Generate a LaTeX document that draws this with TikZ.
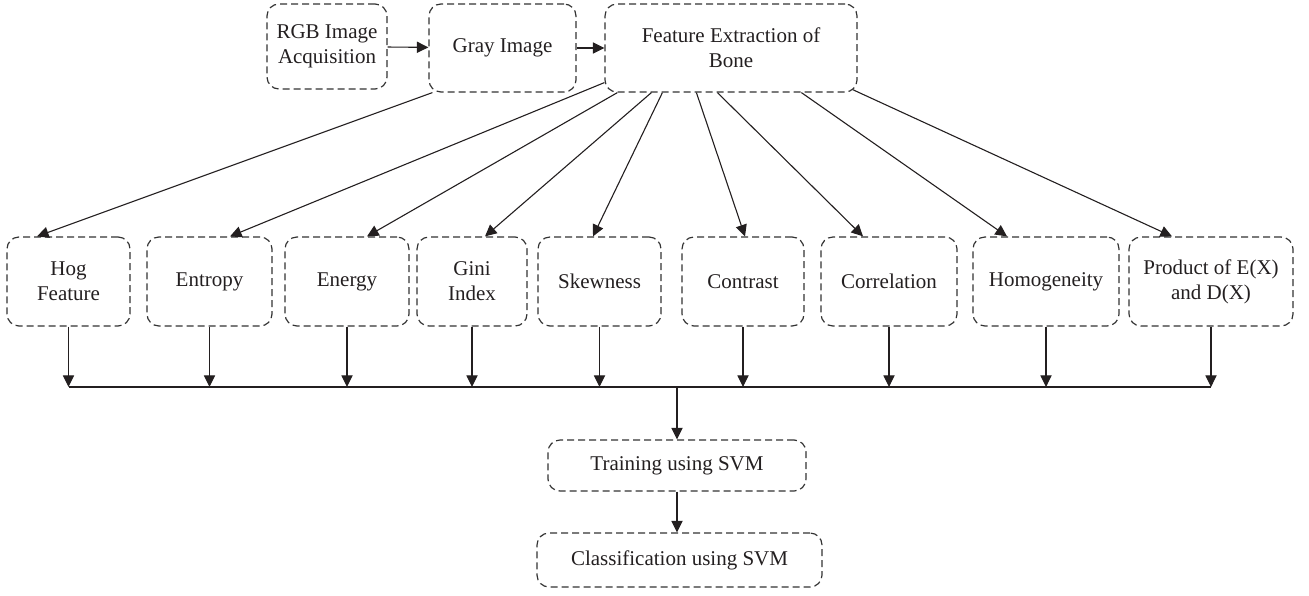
\documentclass[tikz,border=0pt]{standalone}
\usepackage{fontspec}
\setmainfont{Liberation Serif}
\usepackage{tikz}
\usetikzlibrary{arrows.meta, positioning}
\definecolor{inkdark}{HTML}{231F20}
\definecolor{dashgray}{HTML}{333333}

\begin{document}
\begin{tikzpicture}[
  x=0.5pt, y=-0.5pt,
  every node/.style={font=\fontsize{10.5}{12.5}\selectfont, text=inkdark, align=center},
  box/.style={draw=dashgray, line width=0.6pt, dash pattern=on 3.5pt off 2pt,
              rounded corners=6pt, inner sep=2pt},
  arr/.style={-{Triangle[length=5.8pt, width=5.6pt]}, line width=0.55pt, inkdark}
]
\useasboundingbox (0,0) rectangle (1309,595);

% top row
\node[box, minimum width=60pt, minimum height=42.5pt] (rgb)  at (327,46.5) {RGB Image\\Acquisition};
\node[box, minimum width=73.5pt, minimum height=44pt] (gray) at (502.5,48) {Gray Image};
\node[box, minimum width=126pt, minimum height=44pt]  (feat) at (731,48)   {Feature Extraction of\\Bone};

% feature row
\node[box, minimum width=61.5pt, minimum height=44.5pt] (hog)  at (68.5,281.5) {Hog\\Feature};
\node[box, minimum width=62.5pt, minimum height=44.5pt] (ent)  at (209.5,281.5) {Entropy};
\node[box, minimum width=62pt,   minimum height=44.5pt] (ene)  at (347,281.5)  {Energy};
\node[box, minimum width=55pt,   minimum height=44.5pt] (gini) at (472,281.5)  {Gini\\Index};
\node[box, minimum width=61.5pt, minimum height=44.5pt] (skew) at (599.5,281.5) {Skewness};
\node[box, minimum width=61pt,   minimum height=44.5pt] (cont) at (743,281.5)  {Contrast};
\node[box, minimum width=68pt,   minimum height=44.5pt] (corr) at (889,281.5)  {Correlation};
\node[box, minimum width=73pt,   minimum height=44.5pt] (homo) at (1046,281.5) {Homogeneity};
\node[box, minimum width=82pt,   minimum height=44.5pt] (prod) at (1211,281.5) {Product of E(X)\\and D(X)};

% bottom
\node[box, minimum width=129pt,  minimum height=25.5pt] (train) at (677,465.5) {Training using SVM};
\node[box, minimum width=142.5pt, minimum height=27pt]  (clf)   at (679.5,560) {Classification using SVM};

\coordinate (bus) at (677,387);

\draw[arr] (rgb) -- (gray);
\draw[arr] (gray) -- (feat);

\draw[arr] ([xshift=2pt]gray.south west) -- ([xshift=-15.75pt]hog.north);
\draw[arr] ([yshift=5pt]feat.south west) -- ([xshift=10.25pt]ent.north);
\draw[arr] ([xshift=6.5pt]feat.south west) -- ([xshift=10pt]ene.north);
\draw[arr] ([xshift=23.5pt]feat.south west) -- ([xshift=6.5pt]gini.north);
\draw[arr] ([xshift=29pt]feat.south west) -- ([xshift=-3.25pt]skew.north);
\draw[arr] ([xshift=46pt]feat.south west) -- ([xshift=1pt]cont.north);
\draw[arr] ([xshift=56.5pt]feat.south west) -- ([xshift=-13pt]corr.north);
\draw[arr] ([xshift=98.5pt]feat.south west) -- ([xshift=-19.5pt]homo.north);
\draw[arr] ([xshift=-2.5pt,yshift=1.5pt]feat.south east) -- ([xshift=-19.5pt]prod.north);

\foreach \f in {hog,ent,ene,gini,skew,cont,corr,homo,prod}
  \draw[arr] (\f) -- (\f |- bus);
\draw[line width=0.55pt, inkdark] (hog |- bus) -- (prod |- bus);

\draw[arr] (bus) -- (train);
\draw[arr] (train.south) -- (train.south |- clf.north);
\end{tikzpicture}
\end{document}
